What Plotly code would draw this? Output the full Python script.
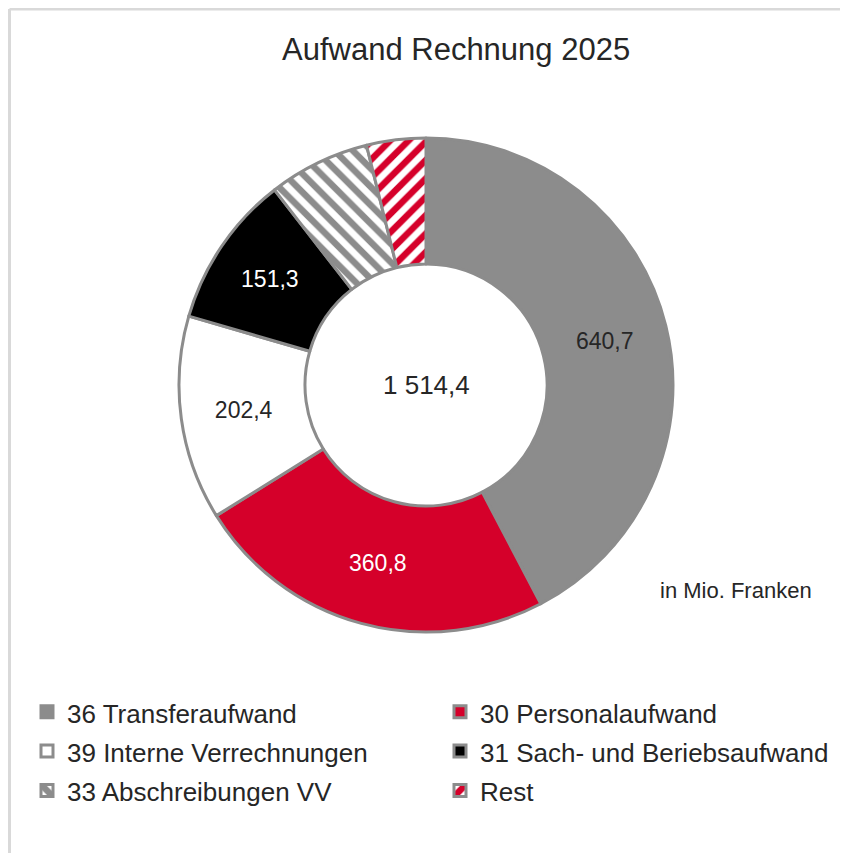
import plotly.graph_objects as go

# Aufwand Rechnung 2025, in Mio. Franken
categories = ['36 Transferaufwand', '30 Personalaufwand', '39 Interne Verrechnungen',
              '31 Sach- und Beriebsaufwand', '33 Abschreibungen VV', 'Rest']
values = [640.7, 360.8, 202.4, 151.3, 100.6, 58.6]
labels = ['640,7', '360,8', '202,4', '151,3', '', '']
total_label = '1 514,4'

W, H = 848, 853
GRAY = '#8c8c8c'
RED = '#d5002a'
FONT = 'Liberation Sans'
TXT = '#262626'

# page body has an 8px margin, so positions are given in figure pixels
CX, CY, R = 418, 377, 247

fig = go.Figure()

fig.add_trace(go.Pie(
    labels=['<span style="font-size:26px">' + c + '</span>' for c in categories],
    values=values,
    text=labels,
    textinfo='text',
    textposition='inside',
    insidetextorientation='horizontal',
    textfont=dict(family=FONT, size=23, color=[TXT, 'white', TXT, 'white', 'white', 'white']),
    hole=0.49,
    sort=False,
    direction='clockwise',
    rotation=0,
    marker=dict(
        colors=[GRAY, RED, 'white', 'black', 'white', 'white'],
        line=dict(color=GRAY, width=3),
        pattern=dict(
            shape=['', '', '', '', '\\', '/'],
            fgcolor=[GRAY, RED, 'white', 'black', GRAY, RED],
            bgcolor=[GRAY, RED, 'white', 'black', 'white', 'white'],
            size=13,
            solidity=0.5,
            fillmode='replace',
        ),
    ),
    domain=dict(x=[(CX - R) / W, (CX + R) / W],
                y=[(H - CY - R) / H, (H - CY + R) / H]),
    hoverinfo='label+value',
))


def note(text, px, py, size):
    fig.add_annotation(text=text, x=px / W, y=(H - py) / H,
                       xref='paper', yref='paper', showarrow=False,
                       xanchor='center', yanchor='middle',
                       font=dict(family=FONT, size=size, color=TXT))


note('Aufwand Rechnung 2025', 448, 42, 31)
note(total_label, CX, CY, 26)
note('in Mio. Franken', 728, 582, 22)

# light frame, top and left edges
fig.add_shape(type='line', xref='paper', yref='paper', x0=1.5 / W, x1=1, y0=(H - 1) / H, y1=(H - 1) / H,
              line=dict(color='#d9d9d9', width=3))
fig.add_shape(type='line', xref='paper', yref='paper', x0=1.5 / W, x1=1.5 / W, y0=0, y1=(H - 1) / H,
              line=dict(color='#d9d9d9', width=3))

fig.update_layout(
    width=W, height=H,
    margin=dict(l=0, r=0, t=0, b=0),
    paper_bgcolor='white',
    plot_bgcolor='white',
    font=dict(family=FONT, color=TXT),
    legend=dict(
        orientation='h',
        x=19 / W, xanchor='left',
        y=(H - 679) / H, yanchor='top',
        entrywidth=368, entrywidthmode='pixels',
        bgcolor='rgba(0,0,0,0)',
        font=dict(family=FONT, size=28, color=TXT),
        traceorder='normal',
    ),
)

fig.write_html("out.html")
